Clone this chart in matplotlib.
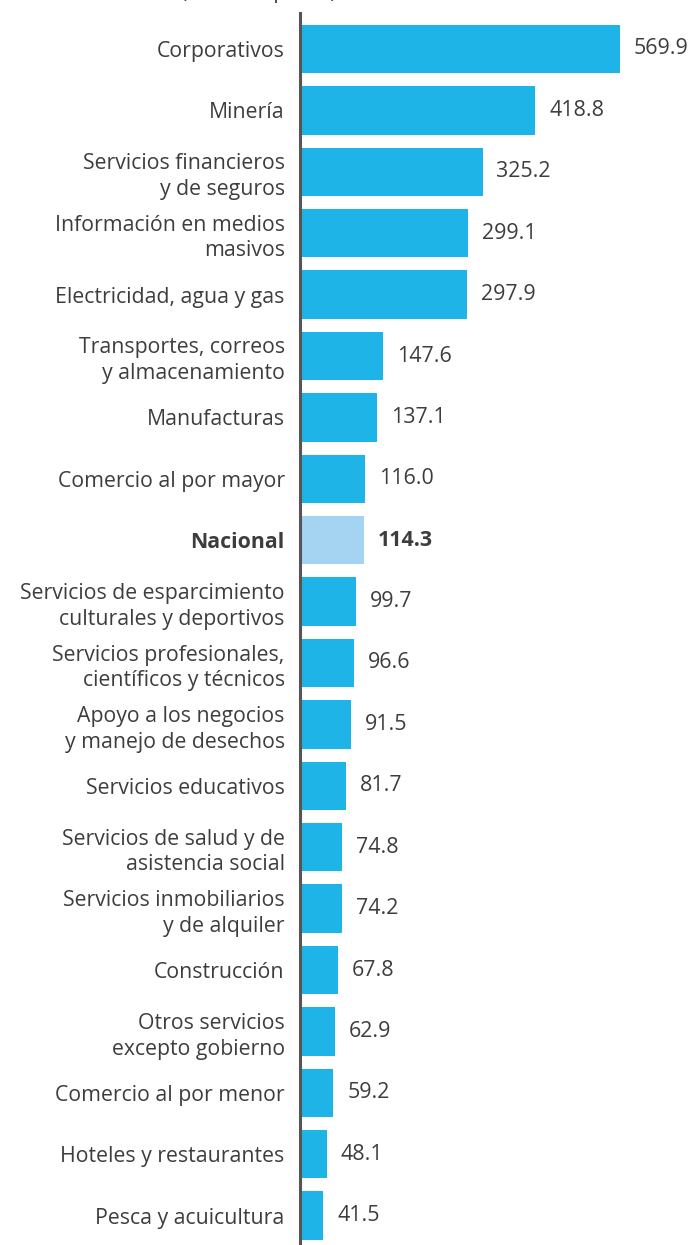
import matplotlib
matplotlib.use("Agg")
import matplotlib.pyplot as plt
import matplotlib.transforms as mtransforms

categories = [
    "Corporativos", "Minería", "Servicios financieros\ny de seguros",
    "Información en medios\nmasivos", "Electricidad, agua y gas",
    "Transportes, correos\ny almacenamiento", "Manufacturas",
    "Comercio al por mayor", "Nacional",
    "Servicios de esparcimiento\nculturales y deportivos",
    "Servicios profesionales,\ncientíficos y técnicos",
    "Apoyo a los negocios\ny manejo de desechos",
    "Servicios educativos", "Servicios de salud y de\nasistencia social",
    "Servicios inmobiliarios\ny de alquiler", "Construcción",
    "Otros servicios\nexcepto gobierno", "Comercio al por menor",
    "Hoteles y restaurantes", "Pesca y acuicultura",
]
values = [569.9, 418.8, 325.2, 299.1, 297.9, 147.6, 137.1, 116.0, 114.3,
          99.7, 96.6, 91.5, 81.7, 74.8, 74.2, 67.8, 62.9, 59.2, 48.1, 41.5]
highlight = "Nacional"

plt.rcParams['font.family'] = ['Open Sans', 'DejaVu Sans']
W, H = 688, 1245
fig = plt.figure(figsize=(W / 100, H / 100), dpi=100)
ax_left = 300 / W
ax = fig.add_axes([ax_left, 0, 1 - ax_left, (1245 - 13) / H])

BLUE = "#1eb4e8"
LIGHT = "#a4d4f1"
TXT = "#3d3d3d"

ypos = list(range(len(categories)))
colors = [LIGHT if c == highlight else BLUE for c in categories]
ax.barh(ypos, values, height=0.79, color=colors, zorder=2)

px_per_unit = 320 / 569.9
ax.set_xlim(0, (W - 300) / px_per_unit)
spacing = 61.4
ax.set_ylim((1245 - 49) / spacing, -(49 - 13) / spacing)

for y, v, c in zip(ypos, values, categories):
    bold = c == highlight
    ax.annotate(f"{v:.1f}", xy=(v, y), xytext=(10, 0), textcoords="offset points",
                va="center", ha="left", fontsize=15.4, color=TXT,
                fontweight="bold" if bold else "normal")

ax.set_yticks(ypos)
ax.set_yticklabels(categories, fontsize=15.3, color=TXT, linespacing=1.3)
shift = mtransforms.ScaledTranslation(0, -3 / 100, fig.dpi_scale_trans)
for lab, c in zip(ax.get_yticklabels(), categories):
    lab.set_transform(lab.get_transform() + shift)
    if c == highlight:
        lab.set_fontweight("bold")
ax.tick_params(axis="y", length=0, pad=11)
ax.set_xticks([])
for s in ["top", "right", "bottom"]:
    ax.spines[s].set_visible(False)
ax.spines["left"].set_color("#555555")
ax.spines["left"].set_linewidth(2.2)
ax.patch.set_alpha(0)

fig.text(259 / W, 1 + 8 / H, "(Miles de pesos)", ha="center", va="center",
         fontsize=15, color=TXT)

fig.savefig("out.png", dpi=100)
